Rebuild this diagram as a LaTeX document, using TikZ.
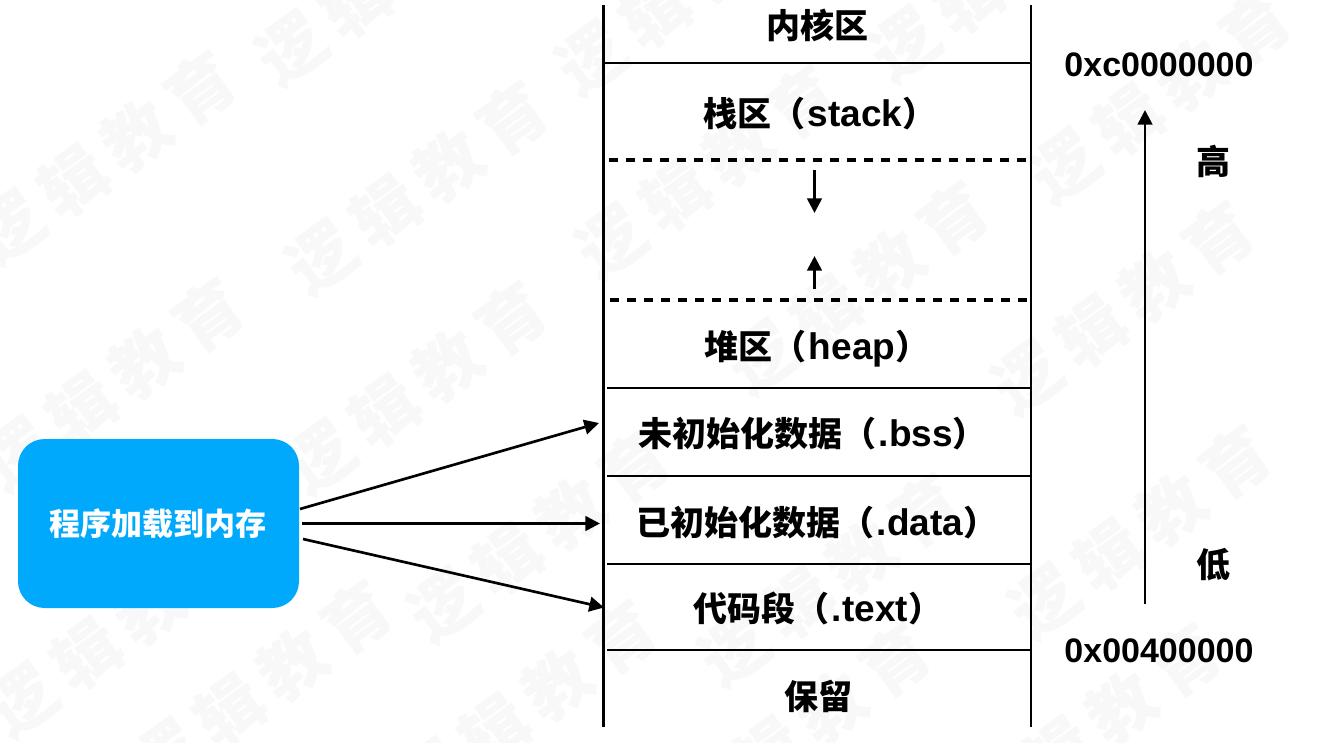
\documentclass[tikz,border=0pt]{standalone}
\usepackage{fontspec}
\setmainfont{Liberation Sans}
\newfontfamily\cjk{Noto Sans CJK SC}
\usetikzlibrary{arrows.meta}
\definecolor{wmgray}{HTML}{F8F8F8}
\definecolor{boxblue}{HTML}{00A9FB}
\newcommand{\zh}[1]{{\cjk\bfseries #1}}
\newcommand{\lat}[1]{\kern2pt{\fontsize{27.75pt}{27.75pt}\selectfont\bfseries #1}}
\tikzset{
  px/.style={x=0.75pt,y=-0.75pt},
  wm/.style={text=wmgray,rotate=36,inner sep=0,font=\fontsize{50pt}{50pt}\selectfont},
  wall/.style={line width=1.9pt,black},
  sep/.style={line width=1.7pt,black},
  dashsep/.style={line width=2.5pt,black,dash pattern=on 6.6pt off 6.15pt},
  conn/.style={line width=2pt,black,-{Triangle[length=11pt,width=11pt]}},
  lab/.style={inner sep=0,font=\fontsize{25.5pt}{25.5pt}\selectfont\bfseries,text=black},
  loadbox/.style={fill=boxblue,rounded corners=20pt,minimum width=210.75pt,minimum height=126.75pt,inner sep=0,text=white,font=\fontsize{23.25pt}{23.25pt}\selectfont},
}
\begin{document}
\begin{tikzpicture}[px]
\useasboundingbox (0,0) rectangle (1322,743);
\fill[white] (0,0) rectangle (1322,743);
% watermark
\foreach \x/\y [count=\i] in {105/158,417/188,707/172,1000/-25,387/-21,687/-11,1160/97,858/288,1123/308,113/385,416/388,118/631,539/536,261/687,526/707,830/580,1140/532,800/730,1090/730}
  \node[wm] (w\i) at (\x,\y) {\cjk\bfseries 逻\kern9pt 辑\kern9pt 教\kern9pt 育};
% walls
\coordinate (wlt) at (603.5,5); \coordinate (wlb) at (603.5,727);
\coordinate (wrt) at (1031,5); \coordinate (wrb) at (1031,727);
\draw[wall] (wlt) -- (wlb);
\draw[wall] (wrt) -- (wrb);
% separators
\foreach \n/\xa/\y in {a/604/63,b/607/388,c/607/476,d/607/564,e/607/650}{
  \coordinate (\n1) at (\xa,\y); \coordinate (\n2) at (1031,\y);
  \draw[sep] (\n1) -- (\n2);
}
\coordinate (f1) at (609,160); \coordinate (f2) at (1027,160);
\coordinate (g1) at (610,300); \coordinate (g2) at (1027,300);
\draw[dashsep] (f1) -- (f2);
\draw[dashsep] (g1) -- (g2);
% labels
\node[lab] (kernel) at (817,25) {\zh{内核区}};
\node[lab,anchor=base west] (stack) at (703,126) {\zh{栈区（}\lat{stack}\zh{）}};
\node[lab,anchor=base west] (heap) at (704,359) {\zh{堆区（}\lat{heap}\zh{）}};
\node[lab,anchor=base west] (bss) at (638,446) {\zh{未初始化数据（}\lat{.bss}\zh{）}};
\node[lab,anchor=base west] (data) at (636,535) {\zh{已初始化数据（}\lat{.data}\zh{）}};
\node[lab,anchor=base west] (text) at (693,621) {\zh{代码段（}\lat{.text}\zh{）}};
\node[lab] (resv) at (818,696) {\zh{保留}};
\node[lab] (hi) at (1159,65) {0xc0000000};
\node[lab] (lo) at (1159,651) {0x00400000};
\node[lab] (high) at (1213,161) {\zh{高}};
\node[lab] (low) at (1213,565) {\zh{低}};
% inner arrows
\coordinate (sa) at (814.5,170); \coordinate (sb) at (814.5,213);
\coordinate (ha) at (814.5,289); \coordinate (hb) at (814.5,256);
\draw[conn] (sa) -- (sb);
\draw[conn] (ha) -- (hb);
\coordinate (ua) at (1145,604); \coordinate (ub) at (1145,110);
\draw[conn] (ua) -- (ub);
% box
\node[loadbox] (load) at (158.5,523.5) {\zh{程序加载到内存}};
\coordinate (l1) at (300,509); \coordinate (t1) at (599,423);
\coordinate (l2) at (302,523.5); \coordinate (t2) at (600,523.5);
\coordinate (l3) at (303,539); \coordinate (t3) at (604,607.5);
\draw[conn] (l1) -- (t1);
\draw[conn] (l2) -- (t2);
\draw[conn] (l3) -- (t3);
\end{tikzpicture}
\end{document}
